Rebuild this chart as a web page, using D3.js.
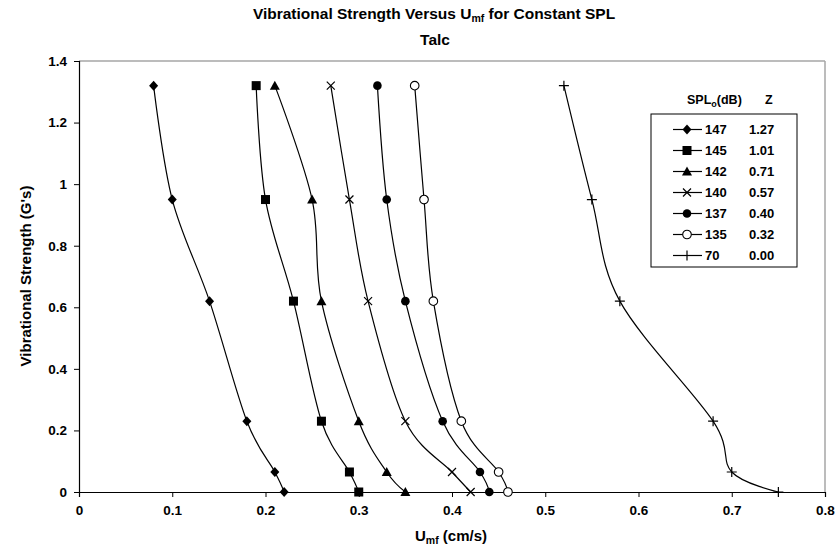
<!DOCTYPE html>
<html><head><meta charset="utf-8">
<script src="https://cdn.jsdelivr.net/npm/d3@7"></script>
<style>body{margin:0;background:#fff}svg{display:block;font-family:"Liberation Sans",Arial,sans-serif}</style>
</head><body><svg id="c" width="839" height="552"></svg>
<script>
const strength = [1.32, 0.95, 0.62, 0.23, 0.065, 0];
const spl = ["147","145","142","140","137","135","70"];
const zVals = ["1.27","1.01","0.71","0.57","0.40","0.32","0.00"];
const symbols = ["diamond","square","triangle","x","circle","opencircle","plus"];
const u147 = [0.08, 0.10, 0.14, 0.18, 0.21, 0.22];
const u145 = [0.19, 0.20, 0.23, 0.26, 0.29, 0.30];
const u142 = [0.21, 0.25, 0.26, 0.30, 0.33, 0.35];
const u140 = [0.27, 0.29, 0.31, 0.35, 0.40, 0.42];
const u137 = [0.32, 0.33, 0.35, 0.39, 0.43, 0.44];
const u135 = [0.36, 0.37, 0.38, 0.41, 0.45, 0.46];
const u70  = [0.52, 0.55, 0.58, 0.68, 0.70, 0.75];
const xTicks = [0,0.1,0.2,0.3,0.4,0.5,0.6,0.7,0.8];
const yTicks = [0,0.2,0.4,0.6,0.8,1,1.2,1.4];

const seriesU = [u147,u145,u142,u140,u137,u135,u70];
const series = seriesU.map((u,i)=>({name:spl[i], z:zVals[i], sym:symbols[i], pts:u.map((v,j)=>({x:v,y:strength[j]}))}));

const svg = d3.select("#c");
const L=79, R=825, T=61, B=492;
const x = d3.scaleLinear().domain([0,0.8]).range([L,R]);
const y = d3.scaleLinear().domain([0,1.4]).range([B,T]);

svg.append("line").attr("x1",L).attr("x2",R).attr("y1",T).attr("y2",T).attr("stroke","#a6a6a6").attr("stroke-width",1.5);
svg.append("line").attr("x1",R).attr("x2",R).attr("y1",T).attr("y2",B).attr("stroke","#a6a6a6").attr("stroke-width",1.5);

const xAxis = svg.append("g").attr("transform",`translate(0,${B})`)
  .call(d3.axisBottom(x).tickValues(xTicks).tickFormat(d=>String(+d.toFixed(1))).tickSize(5).tickPadding(8));
const yAxis = svg.append("g").attr("transform",`translate(${L},0)`)
  .call(d3.axisLeft(y).tickValues(yTicks).tickFormat(d=>String(+d.toFixed(1))).tickSize(5).tickPadding(7));
[xAxis,yAxis].forEach(a=>{
  a.select(".domain").attr("stroke","#000").attr("stroke-width",1.2);
  a.selectAll(".tick line").attr("stroke","#000");
  a.selectAll("text").attr("font-size",13.5).attr("font-weight","bold").attr("fill","#000").attr("font-family","Liberation Sans, Arial, sans-serif");
});

const line = d3.line().x(d=>x(d.x)).y(d=>y(d.y)).curve(d3.curveCardinal.tension(0));

function drawSym(g, sym, cx, cy){
  const s = g.append("g").attr("transform",`translate(${cx},${cy})`);
  if(sym==="diamond") s.append("path").attr("d","M0,-5L4.5,0L0,5L-4.5,0Z").attr("fill","#000");
  else if(sym==="square") s.append("rect").attr("x",-4.5).attr("y",-4.5).attr("width",9).attr("height",9).attr("fill","#000");
  else if(sym==="triangle") s.append("path").attr("d","M0,-5L5,4L-5,4Z").attr("fill","#000");
  else if(sym==="x") s.append("path").attr("d","M-4,-4L4,4M-4,4L4,-4").attr("stroke","#000").attr("stroke-width",1.2);
  else if(sym==="circle") s.append("circle").attr("r",4.3).attr("fill","#000");
  else if(sym==="opencircle") s.append("circle").attr("r",4.3).attr("fill","#fff").attr("stroke","#000").attr("stroke-width",1.1);
  else if(sym==="plus") s.append("path").attr("d","M-5,0L5,0M0,-5L0,5").attr("stroke","#000").attr("stroke-width",1.2);
}

const plot = svg.append("g");
series.forEach(s=>{
  plot.append("path").attr("d",line(s.pts)).attr("fill","none").attr("stroke","#000").attr("stroke-width",1.2);
});
series.forEach(s=>{ s.pts.forEach(p=> drawSym(plot, s.sym, x(p.x), y(p.y))); });

svg.append("text").attr("x",434).attr("y",19).attr("text-anchor","middle").attr("font-size",15.5).attr("font-weight","bold")
  .call(t=>{t.append("tspan").text("Vibrational Strength Versus U");
    t.append("tspan").attr("font-size",10.5).attr("dy",3).text("mf");
    t.append("tspan").attr("dy",-3).text(" for Constant SPL");});
svg.append("text").attr("x",435).attr("y",45).attr("text-anchor","middle").attr("font-size",15.5).attr("font-weight","bold").text("Talc");

svg.append("text").attr("x",451).attr("y",541).attr("text-anchor","middle").attr("font-size",15).attr("font-weight","bold")
  .call(t=>{t.append("tspan").text("U");
    t.append("tspan").attr("font-size",10.5).attr("dy",3).text("mf");
    t.append("tspan").attr("dy",-3).text(" (cm/s)");});
svg.append("text").attr("transform","translate(31,276) rotate(-90)").attr("text-anchor","middle").attr("font-size",15).attr("font-weight","bold").text("Vibrational Strength (G's)");

const lg = svg.append("g");
const lx0 = 651, lx1 = 797, ly0 = 114, ly1 = 267;
lg.append("rect").attr("x",lx0).attr("y",ly0).attr("width",lx1-lx0).attr("height",ly1-ly0).attr("fill","#fff").attr("stroke","#000").attr("stroke-width",1);
lg.append("text").attr("x",687).attr("y",104).attr("font-size",12.5).attr("font-weight","bold")
  .call(t=>{t.append("tspan").text("SPL");
    t.append("tspan").attr("font-size",9).attr("dy",3).text("o");
    t.append("tspan").attr("dy",-3).text("(dB)");});
lg.append("text").attr("x",765).attr("y",104).attr("font-size",12.5).attr("font-weight","bold").text("Z");
series.forEach((s,i)=>{
  const cy = 129.5 + i*21;
  lg.append("line").attr("x1",673).attr("x2",702).attr("y1",cy).attr("y2",cy).attr("stroke","#000").attr("stroke-width",1.2);
  drawSym(lg, s.sym, 687, cy);
  lg.append("text").attr("x",705).attr("y",cy+4.5).attr("font-size",13).attr("font-weight","bold").text(s.name);
  lg.append("text").attr("x",749).attr("y",cy+4.5).attr("font-size",13).attr("font-weight","bold").text(s.z);
});
</script></body></html>
